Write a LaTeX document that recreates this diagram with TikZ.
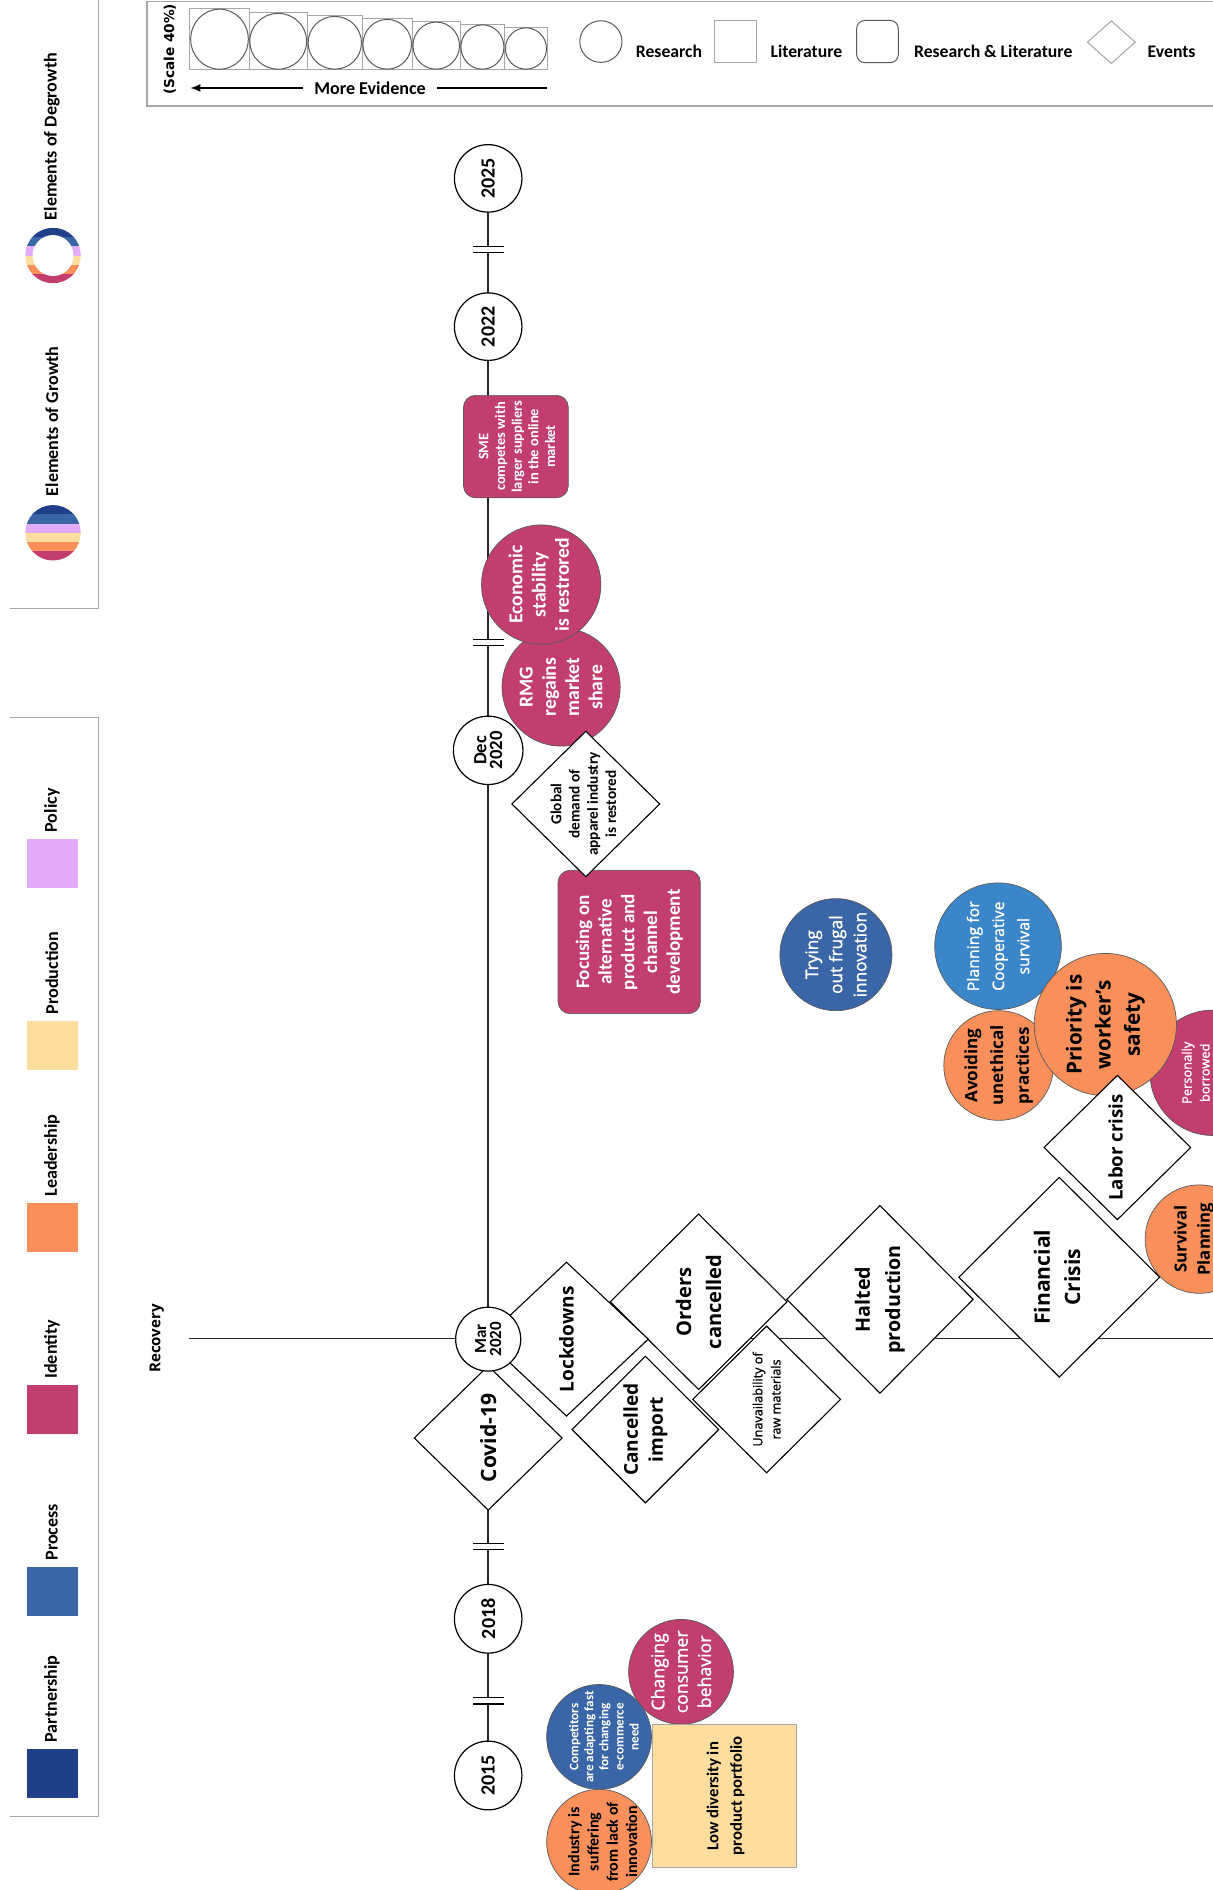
\documentclass[tikz,border=0pt]{standalone}
\usepackage{fontspec}
\setmainfont{Carlito}
\newfontfamily\opensans{Open Sans}
\newfontfamily\opensemi[FakeBold=1.2]{Open Sans}
\newfontfamily\dejavu{DejaVu Sans}
\usetikzlibrary{shapes.geometric,arrows.meta}

\definecolor{partnershipc}{HTML}{1F3F88}
\definecolor{processc}{HTML}{3A66A8}
\definecolor{identityc}{HTML}{C23E6E}
\definecolor{leadershipc}{HTML}{F98F5A}
\definecolor{productionc}{HTML}{FEDD9F}
\definecolor{policyc}{HTML}{E3ACF9}
\definecolor{coopc}{HTML}{3B86C8}
\definecolor{panelgray}{HTML}{A6A6A6}
\definecolor{edgegray}{HTML}{5A5A5A}

% font helpers: Carlito bold, Open Sans bold, Open Sans semibold
\newcommand{\cbf}[2]{\fontsize{#1}{#2}\selectfont\bfseries}
\newcommand{\obf}[2]{\opensans\fontsize{#1}{#2}\selectfont\bfseries}
\newcommand{\osm}[2]{\opensemi\fontsize{#1}{#2}\selectfont}

\begin{document}
\begin{tikzpicture}[x=0.6pt,y=-0.6pt,
  txt/.style={rotate=90, align=center, inner sep=0pt},
  yearnode/.style={ellipse, draw, fill=white, line width=0.6pt, inner sep=0pt,
    rotate=90, align=center},
  event/.style={diamond, draw, fill=white, line width=0.55pt, inner sep=0pt},
  bubble/.style={circle, draw=edgegray, line width=0.35pt, inner sep=0pt},
  card/.style={rectangle, rounded corners=6pt, draw=edgegray, line width=0.35pt, inner sep=0pt},
  swatch/.style={rectangle, inner sep=0pt, minimum width=25.8pt, minimum height=24.6pt},
  frame/.style={draw=panelgray, line width=0.6pt},
  timeline/.style={draw=black!85, line width=0.7pt},
]
\useasboundingbox (0,0) rectangle (1006,1568);

% ---------- panel frames ----------
\draw[frame] (82,0) -- (82,505) -- (8,505);
\draw[frame] (8,595) -- (82,595) -- (82,1507) -- (8,1507);
\draw[frame] (1006,1) -- (122,1) -- (122,88) -- (1006,88);

% ---------- growth / degrowth keys ----------
\begin{scope}
  \clip (44,212) circle[radius=23];
  \foreach \c [count=\i from 0] in {partnershipc,processc,policyc,productionc,leadershipc,identityc}
    \fill[\c] (20,{189+\i*7.67}) rectangle (68,{189+(\i+1)*7.67+0.4});
\end{scope}
\fill[white] (44,212) circle[radius=17];
\node[txt, anchor=west, font=\cbf{9}{10}] (degrowth-lb) at (43,183) {Elements of Degrowth};

\begin{scope}
  \clip (44,442) circle[radius=23];
  \foreach \c [count=\i from 0] in {partnershipc,processc,policyc,productionc,leadershipc,identityc}
    \fill[\c] (20,{419+\i*7.67}) rectangle (68,{419+(\i+1)*7.67+0.4});
\end{scope}
\node[txt, anchor=west, font=\cbf{9}{10}] (growth-lb) at (43,412) {Elements of Growth};

% ---------- category swatches ----------
\node[swatch, fill=policyc] (policy-sw) at (43.5,716.5) {};
\node[txt, anchor=west, font=\cbf{9}{10}] (policy-lb) at (43,691) {Policy};
\node[swatch, fill=productionc] (production-sw) at (43.5,867.5) {};
\node[txt, anchor=west, font=\cbf{9}{10}] (production-lb) at (43,842) {Production};
\node[swatch, fill=leadershipc] (leadership-sw) at (43.5,1018.5) {};
\node[txt, anchor=west, font=\cbf{9}{10}] (leadership-lb) at (43,993) {Leadership};
\node[swatch, fill=identityc] (identity-sw) at (43.5,1169.5) {};
\node[txt, anchor=west, font=\cbf{9}{10}] (identity-lb) at (43,1144) {Identity};
\node[swatch, fill=processc] (process-sw) at (43.5,1320.5) {};
\node[txt, anchor=west, font=\cbf{9}{10}] (process-lb) at (43,1295) {Process};
\node[swatch, fill=partnershipc] (partnership-sw) at (43.5,1471.5) {};
\node[txt, anchor=west, font=\cbf{9}{10}] (partnership-lb) at (43,1446) {Partnership};

% ---------- evidence scale ----------
\node[txt, font=\dejavu\bfseries\fontsize{6.8}{8}\selectfont] (scale-lb) at (141,41) {(Scale 40\%)};
\foreach \xa/\xb/\tp in {157.6/206.6/7, 206.6/255/10.5, 255/300.5/13, 300.5/342/15.5,
                        342/381.8/17.7, 381.8/418.7/20, 418.7/454/22.5} {
  \draw[panelgray, line width=0.5pt] (\xa,\tp) rectangle (\xb,58);
  \draw[edgegray, line width=0.5pt] ({(\xa+\xb)/2},{(\tp+58)/2})
    ellipse[x radius={(\xb-\xa)/2-0.6}, y radius={(58-\tp)/2-0.6}];
}
\node[font=\cbf{9}{10}, inner sep=0pt] (evidence) at (307,73) {More Evidence};
\coordinate (evidence-tip) at (158,73);
\coordinate (evidence-end) at (454,73);
\draw[line width=0.7pt, -{Latex[length=5pt,width=4pt]}] ([xshift=-5.5pt]evidence.west) -- (evidence-tip);
\draw[line width=0.7pt] ([xshift=5.5pt]evidence.east) -- (evidence-end);

% ---------- source type keys ----------
\node[ellipse, draw=edgegray, line width=0.5pt, inner sep=0pt, minimum width=21pt, minimum height=20.7pt] (key-research) at (498.5,34.5) {};
\node[font=\cbf{8.8}{10}, inner sep=0pt] (key-research-lb) at (555,43) {Research};
\node[rectangle, draw=panelgray, line width=0.5pt, inner sep=0pt, minimum width=21pt, minimum height=21pt] (key-literature) at (610.5,34.5) {};
\node[font=\cbf{8.8}{10}, inner sep=0pt] (key-literature-lb) at (669,43) {Literature};
\node[rectangle, rounded corners=4pt, draw=edgegray, line width=0.5pt, inner sep=0pt, minimum width=20.7pt, minimum height=21pt] (key-both) at (728,34.5) {};
\node[font=\cbf{8.8}{10}, inner sep=0pt] (key-both-lb) at (824,43) {Research \& Literature};
\node[diamond, draw=panelgray, line width=0.5pt, inner sep=0pt, minimum width=24pt, minimum height=21.4pt] (key-event) at (922,35) {};
\node[font=\cbf{8.8}{10}, inner sep=0pt] (key-event-lb) at (972,43) {Events};

% ---------- time axes ----------
\coordinate (axis-top) at (405,148);
\coordinate (axis-bottom) at (405,1473);
\coordinate (axis-left) at (157,1110.5);
\coordinate (axis-right) at (1006,1110.5);
\draw[timeline] (axis-top) -- (axis-bottom);
\draw[timeline] (axis-left) -- (axis-right);
\foreach \yy in {207,533,1283,1411} {
  \fill[white] (392,{\yy-2.6}) rectangle (418,{\yy+2.6});
  \draw[line width=0.6pt] (392,{\yy-2.7}) -- (418,{\yy-2.7}) (392,{\yy+2.7}) -- (418,{\yy+2.7});
}
\node[txt, font=\obf{7.5}{9}] (recovery) at (130,1110.5) {Recovery};

\node[yearnode, minimum width=33.6pt, minimum height=33.6pt, font=\cbf{10}{11}] (y2025) at (405,148) {2025};
\node[yearnode, minimum width=33.6pt, minimum height=33.6pt, font=\cbf{10}{11}] (y2022) at (405,271) {2022};
\node[yearnode, minimum width=34pt, minimum height=34.6pt, font=\cbf{9.3}{7.8}] (ydec2020) at (405,622.5) {Dec\\2020};

% ---------- recovery cluster ----------
\node[card, fill=identityc, minimum width=52.2pt, minimum height=51pt] (sme) at (428,370.5) {};
\node[txt, text=white, font=\cbf{7.2}{8.3}] (sme-t) at (429,370.5) {SME\\competes with\\larger suppliers\\in the online\\market};

\node[bubble, fill=identityc, minimum size=58.8pt] (rmg) at (465.5,570) {};
\node[txt, text=white, font=\cbf{9.8}{11.6}] (rmg-t) at (rmg) {RMG\\regains\\market\\share};

\node[bubble, fill=identityc, minimum size=59.4pt] (stability) at (449,485) {};
\node[txt, text=white, font=\cbf{9.8}{11.6}] (stability-t) at (447,485) {Economic\\stability\\is restrored};

\node[card, fill=identityc, minimum width=70.8pt, minimum height=71.4pt] (channels) at (522,781.5) {};
\node[txt, text=white, font=\cbf{9.5}{11.3}] (channels-t) at (channels) {Focusing on\\alternative\\product and\\channel\\development};

\node[event, minimum width=73.8pt, minimum height=72.6pt] (demand) at (486,667) {};
\node[txt, font=\cbf{7.6}{9.1}] (demand-t) at (484,667) {Global\\demand of\\apparel industry\\is restored};

% ---------- responses ----------
\node[bubble, fill=processc, minimum size=55.8pt] (frugal) at (693.5,792) {};
\node[txt, text=white, font=\osm{8.6}{12}] (frugal-t) at (frugal) {Trying\\out frugal\\innovation};

\node[bubble, fill=coopc, minimum size=63pt] (coop) at (828,785) {};
\node[txt, text=white, font=\osm{7.9}{12.5}] (coop-t) at (coop) {Planning for\\Cooperative\\survival};

\node[bubble, fill=leadershipc, minimum size=54.6pt] (ethics) at (828.5,884) {};
\node[txt, font=\obf{8.5}{12.8}] (ethics-t) at (ethics) {Avoiding\\unethical\\practices};

\node[bubble, fill=identityc, minimum size=62.4pt] (borrowed) at (1006,890) {};
\node[txt, text=white, font=\osm{6.4}{9}] (borrowed-t) at (992,890) {Personally\\borrowed};

\node[bubble, fill=leadershipc, minimum size=70.8pt] (safety) at (917,850) {};
\node[txt, font=\obf{10.3}{14.5}] (safety-t) at (safety) {Priority is\\worker’s\\safety};

\node[event, minimum width=73.2pt, minimum height=72pt] (labor) at (927,952) {};
\node[txt, font=\obf{9.3}{11}] (labor-t) at (925.5,952) {Labor crisis};

% ---------- crisis events ----------
\node[event, minimum width=100.2pt, minimum height=99.6pt] (financial) at (878.8,1059.6) {};
\node[txt, font=\obf{10.5}{15}] (financial-t) at (877,1059.6) {Financial\\Crisis};

\node[bubble, fill=leadershipc, minimum size=54pt] (survival) at (995,1028) {};
\node[txt, font=\obf{8.3}{11.6}] (survival-t) at (990.5,1028) {Survival\\Planning};

\node[event, minimum width=93pt, minimum height=93.6pt] (halted) at (730,1078) {};
\node[txt, font=\obf{9.8}{15}] (halted-t) at (halted) {Halted\\production};

\node[event, minimum width=88.2pt, minimum height=87.6pt] (orders) at (579.6,1080) {};
\node[txt, font=\obf{10}{15}] (orders-t) at (orders) {Orders\\cancelled};

\node[event, minimum width=73.8pt, minimum height=73.2pt] (rawmat) at (636,1161) {};
\node[txt, font=\osm{6.3}{9}] (rawmat-t) at (rawmat) {Unavailability of\\raw materials};

\node[event, minimum width=81.6pt, minimum height=76.8pt] (lockdowns) at (470,1111) {};
\node[txt, font=\obf{9.5}{11}] (lockdowns-t) at (lockdowns) {Lockdowns};

\node[event, minimum width=73.2pt, minimum height=73.2pt] (import) at (535.4,1186) {};
\node[txt, font=\obf{9.5}{12.5}] (import-t) at (import) {Cancelled\\import};

\node[event, minimum width=73.8pt, minimum height=72pt] (covid) at (405,1193) {};
\node[txt, font=\obf{10.5}{12}] (covid-t) at (covid) {Covid-19};

\node[yearnode, minimum width=31.8pt, minimum height=32.4pt, font=\cbf{8.5}{7.5}] (ymar2020) at (405,1111) {Mar\\2020};
\node[yearnode, minimum width=34.2pt, minimum height=33.6pt, font=\cbf{10}{11}] (y2018) at (405,1343) {2018};
\node[yearnode, minimum width=34.2pt, minimum height=33.6pt, font=\cbf{10}{11}] (y2015) at (405,1473) {2015};

% ---------- pre-pandemic situation ----------
\node[bubble, fill=identityc, minimum size=52.2pt] (consumer) at (565,1387) {};
\node[txt, text=white, font=\osm{8.8}{11.6}] (consumer-t) at (consumer) {Changing\\consumer\\behavior};

\node[bubble, fill=processc, minimum size=52.2pt] (competitors) at (497,1441) {};
\node[txt, text=white, font=\cbf{6.5}{7.5}] (competitors-t) at (501,1441) {Competitors\\are adapting fast\\for changing\\e-commerce\\need};

\node[bubble, fill=leadershipc, minimum size=52.2pt] (innovation) at (497,1528) {};
\node[txt, font=\cbf{8}{9.6}] (innovation-t) at (500,1528) {Industry is\\suffering\\from lack of\\innovation};

\node[rectangle, draw=panelgray, line width=0.5pt, fill=productionc, inner sep=0pt, minimum width=72pt, minimum height=71.2pt] (portfolio) at (601,1490) {};
\node[txt, font=\cbf{8.3}{11.7}] (portfolio-t) at (602,1490) {Low diversity in\\product portfolio};

\end{tikzpicture}
\end{document}
